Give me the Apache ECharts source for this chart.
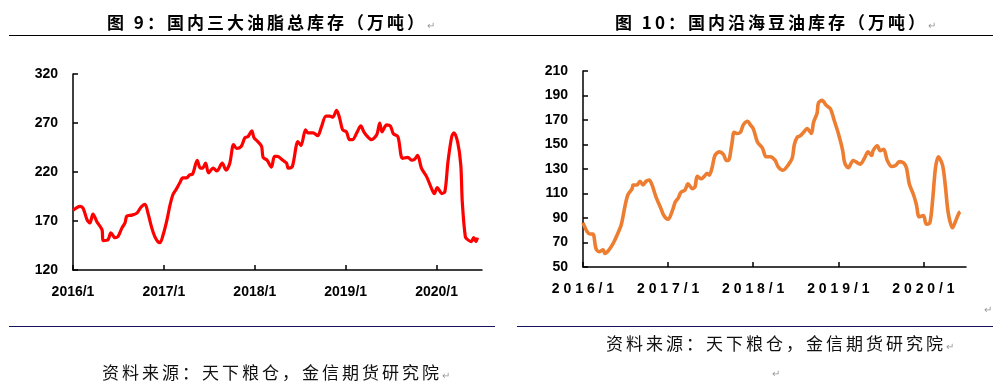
<!DOCTYPE html>
<html>
<head>
<meta charset="utf-8">
<script src="https://cdn.jsdelivr.net/npm/echarts@6/dist/echarts.min.js"></script>
<style>
  html, body { margin:0; padding:0; background:#fff; }
  #wrap { position:relative; width:996px; height:386px; overflow:hidden; }
  #chart { position:absolute; left:0; top:0; width:996px; height:386px; }
  .t { position:absolute; white-space:nowrap; font-family:"Noto Sans CJK SC", sans-serif; color:#000; }
  .title { font-size:17px; font-weight:bold; letter-spacing:3px; line-height:20px; }
  .src { font-size:17px; font-weight:normal; letter-spacing:3px; line-height:20px; color:#111; }
  .pm { font-size:10px; color:#999; letter-spacing:0; font-weight:normal; }
  .rule { position:absolute; height:1px; }
</style>
</head>
<body>
<div id="wrap">
  <div id="chart"></div>
  <div class="t title" style="left:107px; top:12px;">图 9：国内三大油脂总库存（万吨）<span class="pm">↵</span></div>
  <div class="t title" style="left:615px; top:12px;">图 10：国内沿海豆油库存（万吨）<span class="pm">↵</span></div>
  <div class="rule" style="left:9px; top:35px; width:984px; background:#000;"></div>
  <div class="rule" style="left:9px; top:326px; width:486px; background:#14145a;"></div>
  <div class="rule" style="left:517px; top:326px; width:476px; background:#14145a;"></div>
  <div class="t src" style="left:102px; top:362px;">资料来源：天下粮仓，金信期货研究院<span class="pm">↵</span></div>
  <div class="t src" style="left:606px; top:333px;">资料来源：天下粮仓，金信期货研究院<span class="pm">↵</span></div>
  <div class="t pm" style="left:772px; top:365px;">↵</div>
  <div class="t pm" style="left:984px; top:301px;">↵</div>
</div>
<script>
// ---- Data ----
const yearTicks = ['2016/1', '2017/1', '2018/1', '2019/1', '2020/1'];

const leftTicks = [120, 170, 220, 270, 320];
const leftDates = [
  '2016-01-01','2016-01-29','2016-02-11','2016-02-27','2016-03-08','2016-03-20','2016-04-06','2016-04-26','2016-04-30','2016-05-20',
  '2016-06-01','2016-06-17','2016-06-29','2016-07-15','2016-07-27','2016-08-04','2016-08-24','2016-09-14','2016-09-30','2016-10-16',
  '2016-10-28','2016-11-13','2016-11-25','2016-12-07','2016-12-16','2016-12-28','2017-01-13','2017-01-25','2017-02-07','2017-02-19',
  '2017-03-04','2017-03-16','2017-04-01','2017-04-13','2017-04-25','2017-05-13','2017-05-25','2017-06-04','2017-06-16','2017-06-28',
  '2017-07-16','2017-08-01','2017-08-22','2017-09-07','2017-09-22','2017-10-07','2017-10-19','2017-11-07','2017-11-22','2017-12-04',
  '2017-12-19','2017-12-28','2018-01-13','2018-01-28','2018-02-04','2018-02-20','2018-03-07','2018-03-19','2018-04-01','2018-04-22',
  '2018-05-07','2018-05-13','2018-05-28','2018-06-04','2018-06-22','2018-07-04','2018-07-22','2018-08-01','2018-08-22','2018-09-10',
  '2018-09-25','2018-10-13','2018-10-28','2018-11-10','2018-11-25','2018-12-07','2018-12-19','2019-01-04','2019-01-16','2019-01-28',
  '2019-02-15','2019-03-01','2019-03-13','2019-03-28','2019-04-13','2019-05-04','2019-05-16','2019-05-25','2019-06-13','2019-06-28',
  '2019-07-10','2019-07-28','2019-08-16','2019-09-07','2019-09-22','2019-10-04','2019-10-16','2019-11-01','2019-11-22','2019-12-13',
  '2019-12-22','2020-01-04','2020-01-22','2020-02-04','2020-02-16','2020-03-01','2020-03-10','2020-03-25','2020-04-07','2020-04-13',
  '2020-04-25','2020-05-04','2020-05-19','2020-05-28','2020-06-07','2020-06-13'
];
const leftValues = [
  181,185,183,171,168,177,169,161,150,151,
  158,153,154,163,168,175,176,178,184,187,
  178,163,154,149,148,156,171,186,197,202,
  209,214,214,217,218,232,224,224,229,219,
  224,221,229,222,229,248,244,246,255,256,
  262,255,251,246,235,232,225,236,236,232,
  229,224,225,230,251,247,263,260,260,257,
  266,277,277,276,283,275,263,261,253,253,
  260,267,261,256,253,258,270,261,268,267,
  259,256,234,235,232,233,237,224,215,202,
  198,204,198,200,230,256,260,250,227,189,
  154,151,149,153,149,153
];

const rightTicks = [50, 70, 90, 110, 130, 150, 170, 190, 210];
const rightDates = [
  '2016-01-01','2016-01-18','2016-01-30','2016-02-13','2016-02-26','2016-03-09','2016-03-26','2016-04-04','2016-04-21','2016-05-08',
  '2016-05-25','2016-06-12','2016-06-20','2016-06-29','2016-07-11','2016-07-29','2016-08-03','2016-08-20','2016-09-02','2016-09-15',
  '2016-09-28','2016-10-11','2016-10-23','2016-11-10','2016-11-28','2016-12-13','2017-01-01','2017-01-19','2017-02-01','2017-02-13',
  '2017-02-25','2017-03-13','2017-03-25','2017-04-13','2017-04-25','2017-05-04','2017-05-22','2017-06-04','2017-06-16','2017-06-25',
  '2017-07-07','2017-07-19','2017-08-07','2017-08-25','2017-09-07','2017-09-16','2017-10-01','2017-10-10','2017-10-22','2017-11-07',
  '2017-11-19','2017-12-07','2017-12-19','2018-01-01','2018-01-19','2018-02-10','2018-02-25','2018-03-13','2018-04-04','2018-04-16',
  '2018-05-07','2018-05-28','2018-06-16','2018-06-25','2018-07-07','2018-07-19','2018-08-04','2018-08-19','2018-09-07','2018-09-16',
  '2018-10-01','2018-10-07','2018-10-22','2018-11-10','2018-11-28','2018-12-13','2019-01-01','2019-01-19','2019-01-28','2019-02-13',
  '2019-03-04','2019-03-22','2019-04-04','2019-04-22','2019-05-07','2019-05-22','2019-05-28','2019-06-16','2019-06-28','2019-07-13',
  '2019-07-28','2019-08-16','2019-09-04','2019-09-19','2019-10-07','2019-10-19','2019-11-01','2019-11-19','2019-12-01','2019-12-13',
  '2020-01-01','2020-01-13','2020-01-28','2020-02-10','2020-02-22','2020-03-04','2020-03-22','2020-04-04','2020-04-16','2020-05-04',
  '2020-05-16','2020-06-01','2020-06-07'
];
const rightValues = [
  86,79,77,77,65,62.5,64,61,64,69,
  76,84,91,100,109,114,117,117,120,117,
  120,121,117,107,99,92,89,96,103,106,
  111,113,118,114,115.5,124,122,124,126.5,125,
  131,141,144,142,137,137,151,160,159,160,
  166,169,166,163,152,147,140,140,137,132,
  129,133,139,150,156,157,160,163,159,168,
  175.5,184,186,182,179,170,159,145.5,135,131,
  137,135,134,139,144,141,145,149,145,146,
  137,132,133,136,135,131,118,109,101,91,
  92,85,86,105,131,140,133,115.5,94,82,
  87,94,95
];

// ---- helpers ----
function toMonths(s) {
  const p = s.split('-').map(Number);
  return (p[0] - 2016) * 12 + (p[1] - 1) + (p[2] - 1) / 30;
}
const yearPos = yearTicks.map(t => (parseInt(t) - 2016) * 12);
const tickLabelMap = {};
yearTicks.forEach((t, i) => { tickLabelMap[yearPos[i]] = t; });

const leftData = leftDates.map((d, i) => [toMonths(d), leftValues[i]]);
const rightData = rightDates.map((d, i) => [toMonths(d), rightValues[i]]);

const labelFont = { fontFamily: 'Liberation Sans, Arial, sans-serif', fontWeight: 'bold', fontSize: 14, color: '#000' };
const axisLineStyle = { color: '#000', width: 1.5 };

function xAxisFor(gridIndex, spaced) {
  return {
    type: 'value', gridIndex: gridIndex, min: 0, max: 54,
    splitLine: { show: false },
    axisLine: { show: true, lineStyle: axisLineStyle },
    axisTick: { show: true, inside: true, length: 5, customValues: yearPos, lineStyle: axisLineStyle },
    axisLabel: Object.assign({
      show: true, margin: 15, customValues: yearPos,
      formatter: v => {
        const t = tickLabelMap[Math.round(v)] || '';
        return spaced ? t.split('').join(' ') : t;
      }
    }, labelFont)
  };
}
function yAxisFor(gridIndex, ticks) {
  return {
    type: 'value', gridIndex: gridIndex, min: ticks[0], max: ticks[ticks.length - 1],
    splitLine: { show: false },
    axisLine: { show: true, lineStyle: axisLineStyle },
    axisTick: { show: true, inside: true, length: 5, customValues: ticks, lineStyle: axisLineStyle },
    axisLabel: Object.assign({ show: true, margin: 15, customValues: ticks }, labelFont)
  };
}

const chart = echarts.init(document.getElementById('chart'), null, { renderer: 'canvas' });
chart.setOption({
  animation: false,
  backgroundColor: '#fff',
  grid: [
    { left: 73, right: 514, top: 74, bottom: 116, containLabel: false },
    { left: 583, right: 30, top: 71, bottom: 119, containLabel: false }
  ],
  xAxis: [xAxisFor(0, false), xAxisFor(1, true)],
  yAxis: [yAxisFor(0, leftTicks), yAxisFor(1, rightTicks)],
  series: [
    {
      type: 'line', xAxisIndex: 0, yAxisIndex: 0, data: leftData,
      showSymbol: false, smooth: 0.3,
      lineStyle: { color: '#FF0000', width: 3.2 }
    },
    {
      type: 'line', xAxisIndex: 1, yAxisIndex: 1, data: rightData,
      showSymbol: false, smooth: 0.3,
      lineStyle: { color: '#ED7D31', width: 3.6 }
    }
  ]
});
</script>
</body>
</html>
